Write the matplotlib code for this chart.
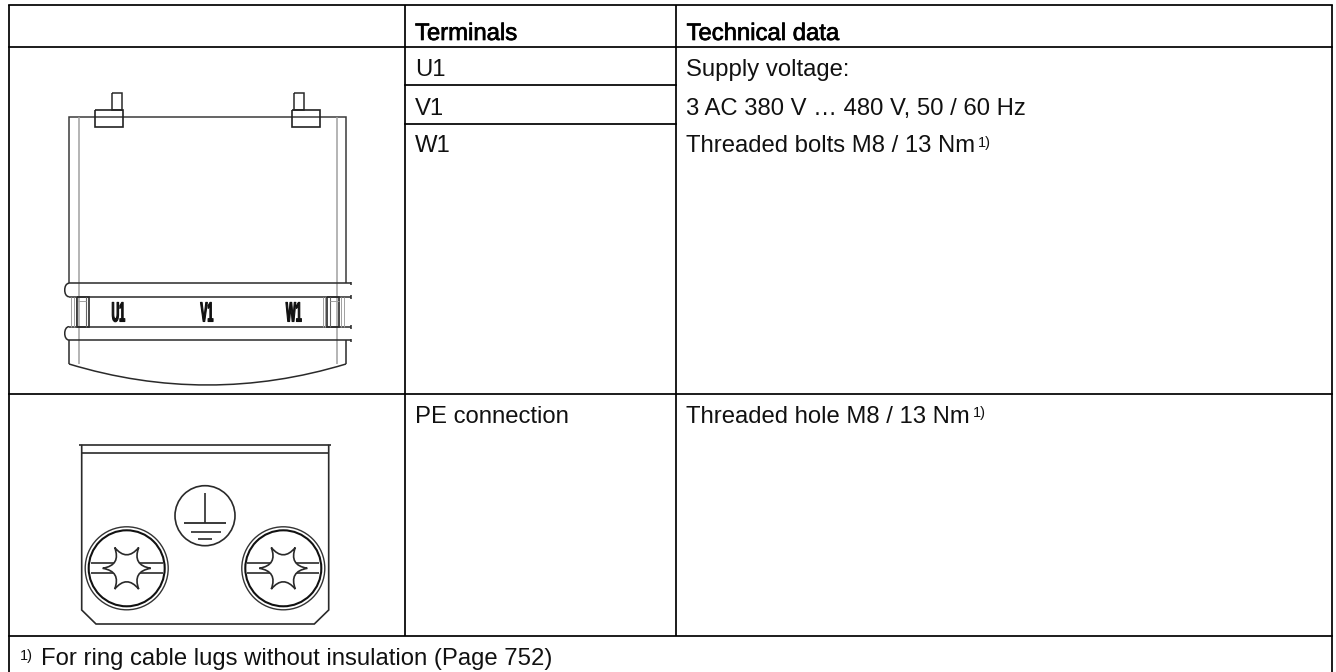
import numpy as np
import matplotlib
matplotlib.use("Agg")
import matplotlib.pyplot as plt
from matplotlib.patches import Circle, PathPatch
from matplotlib.path import Path
from matplotlib.patheffects import AbstractPathEffect, withStroke
from matplotlib.transforms import Affine2D

plt.rcParams['font.family'] = ['Liberation Sans', 'DejaVu Sans']

# table rules in pixels
h_rules = [(8.5, 1331.5, 5), (8.5, 1331.5, 47), (405, 676, 85), (405, 676, 124),
           (8.5, 1331.5, 394), (8.5, 1331.5, 636)]
v_rules = [(8.5, 5, 672), (405, 5, 636), (676, 5, 636), (1331.5, 5, 672)]

header_labels = ["Terminals", "Technical data"]
header_pos = [(415, 40), (686.5, 40)]
cell_labels = ["U1", "V1", "W1", "Supply voltage:", "3 AC 380 V … 480 V, 50 / 60 Hz",
               "Threaded bolts M8 / 13 Nm", "PE connection", "Threaded hole M8 / 13 Nm",
               "For ring cable lugs without insulation (Page 752)"]
cell_pos = [(415, 76), (415, 115), (415, 152), (686.5, 76), (686.5, 115), (686.5, 152),
            (415, 423), (686.5, 423), (41, 665)]
note_mark = "1)"
note_pos = [(978, 146.5), (973, 417.5), (20, 660)]
terminal_labels = ["U1", "V1", "W1"]
terminal_x = [118, 207, 294]


class Squeeze(AbstractPathEffect):
    # the labels on the drawing are very narrow
    def __init__(self, sx):
        super().__init__()
        self.sx = sx

    def draw_path(self, renderer, gc, tpath, affine, rgbFace=None):
        ext = affine.transform_path(tpath).get_extents()
        cx = (ext.x0 + ext.x1) / 2
        tr = affine + Affine2D().translate(-cx, 0).scale(self.sx, 1).translate(cx, 0)
        gc0 = renderer.new_gc()
        gc0.copy_properties(gc)
        gc0.set_linewidth(0.8)
        gc0.set_foreground(rgbFace)
        renderer.draw_path(gc0, tpath, tr, rgbFace)
        gc0.restore()


def line(ax, xs, ys, lw=1.1, color='#2a2a2a', z=3):
    ax.plot(xs, ys, color=color, lw=lw, solid_capstyle='butt', solid_joinstyle='miter', zorder=z)


def box(ax, x0, y0, x1, y1, lw=1.1, color='#2a2a2a', z=3):
    line(ax, [x0, x1, x1, x0, x0], [y0, y0, y1, y1, y0], lw, color, z)


def drawTable(ax):
    for x0, x1, y in h_rules:
        ax.plot([x0, x1], [y, y], color='black', lw=1.25, solid_capstyle='projecting', zorder=5)
    for x, y0, y1 in v_rules:
        ax.plot([x, x], [y0, y1], color='black', lw=1.25, solid_capstyle='butt', zorder=5)
    for s, (x, y) in zip(header_labels, header_pos):
        ax.text(x, y, s, fontsize=17.2, color='black', va='baseline',
                path_effects=[withStroke(linewidth=0.5, foreground='black')])
    for s, (x, y) in zip(cell_labels, cell_pos):
        ax.text(x, y, s, fontsize=17.2, color='#111111', va='baseline')
    for x, y in note_pos:
        ax.text(x, y, note_mark, fontsize=10.5, color='#111111', va='baseline')


def drawTerminals(ax):
    gray = '#a0a0a0'
    # housing
    line(ax, [69, 69, 346, 346], [283, 117, 117, 283], 1.1, '#3a3a3a')
    line(ax, [69, 69], [340, 364])
    line(ax, [346, 346], [340, 364])
    line(ax, [78.7, 78.7], [117, 364], 1.1, gray)
    line(ax, [336.7, 336.7], [117, 364], 1.1, gray)
    # bolts on top
    for sx, sw, bx0, bx1 in [(112.3, 10, 95.3, 123.3), (294, 9.7, 292.3, 320)]:
        box(ax, sx, 92.7, sx + sw, 110, 1.1)
        box(ax, bx0, 110, bx1, 126.7, 1.2, '#222222')
    # rails
    for y0, y1 in [(283.3, 296.7), (326.7, 340)]:
        line(ax, [69, 351], [y0, y0], 1.1)
        line(ax, [69, 351], [y1, y1], 1.1)
        ax.add_patch(PathPatch(Path([(69, y0), (63.3, y0), (63.3, y1), (69, y1)],
                                    [Path.MOVETO, Path.CURVE4, Path.CURVE4, Path.CURVE4]),
                               fc='none', ec='#2a2a2a', lw=1.1, zorder=3))
        line(ax, [351, 351], [y0 - 1.5, y0 + 2], 1.1)
        line(ax, [351, 351], [y1 - 1.5, y1 + 2], 1.1)
    # terminal strip ends
    for x in [71, 73.5, 76]:
        line(ax, [x, x], [297, 327], 0.7, gray)
    box(ax, 76.7, 297, 89.3, 327, 1.2, '#2a2a2a')
    line(ax, [86, 86], [297, 327], 0.8, '#666666')
    line(ax, [78, 86], [300.5, 300.5], 0.7, gray)
    for x in [323, 325, 341, 343.5]:
        line(ax, [x, x], [297, 327], 0.7, gray)
    box(ax, 326.5, 297, 339, 327, 1.2, '#2a2a2a')
    line(ax, [329.5, 329.5], [297, 327], 0.8, '#666666')
    line(ax, [329.5, 339], [300.5, 300.5], 0.7, gray)
    # front edge
    ax.add_patch(PathPatch(Path([(69, 364), (207.5, 406), (346, 364)],
                                [Path.MOVETO, Path.CURVE3, Path.CURVE3]),
                           fc='none', ec='#2a2a2a', lw=1.1, zorder=3))
    for s, x in zip(terminal_labels, terminal_x):
        ax.text(x, 321.5, s, fontsize=20, fontweight='bold', ha='center', va='baseline',
                color='#111111', path_effects=[Squeeze(0.38)])


def star(cx, cy, tip=24.0, ctrl=6.2):
    verts = [(cx + tip, cy)]
    codes = [Path.MOVETO]
    for k in range(6):
        a1 = np.radians(60 * k + 30)
        a2 = np.radians(60 * k + 60)
        verts += [(cx + ctrl * np.cos(a1), cy + ctrl * np.sin(a1)),
                  (cx + tip * np.cos(a2), cy + tip * np.sin(a2))]
        codes += [Path.CURVE3, Path.CURVE3]
    return Path(verts, codes)


def drawScrew(ax, cx, cy):
    ax.add_patch(Circle((cx, cy), 41.5, fc='none', ec='#333333', lw=1.0, zorder=3))
    ax.add_patch(Circle((cx, cy), 38, fc='none', ec='#111111', lw=1.5, zorder=3))
    for y in [cy - 5, cy + 5]:
        line(ax, [cx - 36, cx + 36], [y, y], 1.2)
    ax.add_patch(PathPatch(star(cx, cy), fc='white', ec='#2a2a2a', lw=1.2, zorder=4))


def drawPE(ax):
    line(ax, [79.3, 330.7], [444.7, 444.7], 1.2)
    line(ax, [81.7, 328.7], [452.7, 452.7], 1.2)
    line(ax, [81.7, 81.7, 96, 314.3, 328.7, 328.7], [444.7, 610, 624, 624, 610, 444.7], 1.2)
    ax.add_patch(Circle((205, 515.7), 30, fc='none', ec='#2a2a2a', lw=1.2, zorder=3))
    line(ax, [205, 205], [492.7, 522.7], 1.2)
    line(ax, [184.3, 225.7], [522.7, 522.7], 1.3)
    line(ax, [190.7, 221], [531.7, 531.7], 1.2)
    line(ax, [198.3, 212.3], [539, 539], 1.2)
    drawScrew(ax, 126.7, 568.3)
    drawScrew(ax, 283.3, 568.3)


def main():
    fig = plt.figure(figsize=(13.36, 6.72), dpi=100)
    ax = fig.add_axes([0, 0, 1, 1])
    ax.set_xlim(0, 1336)
    ax.set_ylim(672, 0)
    ax.axis('off')
    drawTable(ax)
    drawTerminals(ax)
    drawPE(ax)
    fig.savefig('out.png', dpi=100, facecolor='white')


main()
